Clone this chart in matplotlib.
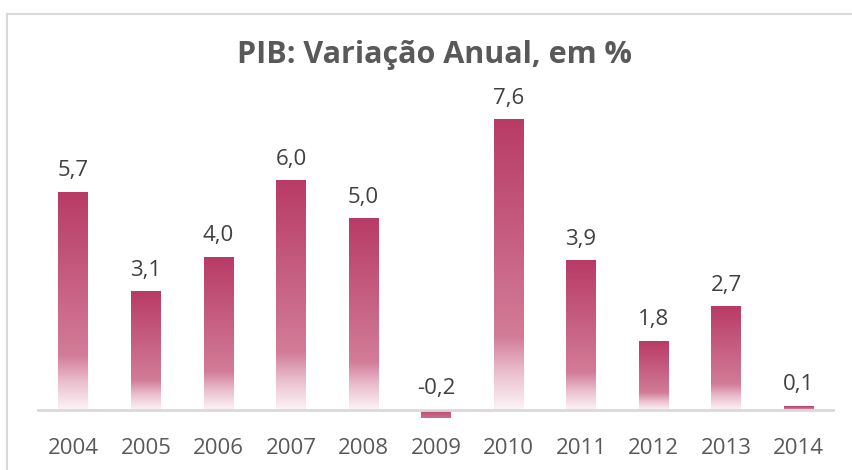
import numpy as np
import matplotlib
matplotlib.use("Agg")
import matplotlib.pyplot as plt
from matplotlib.lines import Line2D

years = ["2004", "2005", "2006", "2007", "2008", "2009", "2010", "2011", "2012", "2013", "2014"]
pib = [5.7, 3.1, 4.0, 6.0, 5.0, -0.2, 7.6, 3.9, 1.8, 2.7, 0.1]
labels = ["5,7", "3,1", "4,0", "6,0", "5,0", "-0,2", "7,6", "3,9", "1,8", "2,7", "0,1"]

plt.rcParams['font.family'] = ['Open Sans', 'DejaVu Sans']

# vertical gradient: dark pink on top, fading to white at the bottom
stops = [0.0, 0.75, 0.87, 1.0]
cols = np.array([[184, 59, 102], [210, 124, 152], [234, 190, 205], [252, 244, 247]]) / 255.0
t = np.linspace(0, 1, 256)
grad = np.stack([np.interp(t, stops, cols[:, k]) for k in range(3)], axis=1)[:, None, :]

fig = plt.figure(figsize=(8.53, 4.70), dpi=100)
ax = fig.add_axes([0.0434, 0.103, 0.9355, 0.675])

x = np.arange(len(years))
bars = ax.bar(x, pib, width=0.41, color='none', edgecolor='none')
for b, v in zip(bars, pib):
    x0 = b.get_x()
    x1 = x0 + b.get_width()
    if v >= 0:
        ext = [x0, x1, 0, v]
        g = grad
    else:
        ext = [x0, x1, v, 0]
        g = grad[40:150]
    ax.imshow(g, extent=ext, aspect='auto', origin='upper', zorder=2,
              interpolation='bilinear')

for xi, v, lab in zip(x, pib, labels):
    ax.annotate(lab, xy=(xi, max(v, 0)), xytext=(0, 8), textcoords='offset points',
                ha='center', va='bottom', fontsize=16, color='#404040')

ax.set_xlim(-0.5, len(years) - 0.5)
ax.set_ylim(-0.3, 8.0)
ax.axhline(0, color='#D9D9D9', lw=2, zorder=3)
ax.set_xticks(x)
ax.set_xticklabels(years, fontsize=16, color='#595959')
ax.tick_params(axis='x', length=0, pad=12)
ax.set_yticks([])
for s in ax.spines.values():
    s.set_visible(False)

fig.text(0.509, 0.883, "PIB: Variação Anual, em %", ha='center', va='center',
         fontsize=22, fontweight='bold', color='#595959')

# chart area border (top and left visible)
fig.add_artist(Line2D([0.0082, 1.0], [0.970, 0.970], color='#D9D9D9', lw=1.5))
fig.add_artist(Line2D([0.0082, 0.0082], [0.0, 0.970], color='#D9D9D9', lw=1.5))

fig.savefig("out.png", dpi=100)
